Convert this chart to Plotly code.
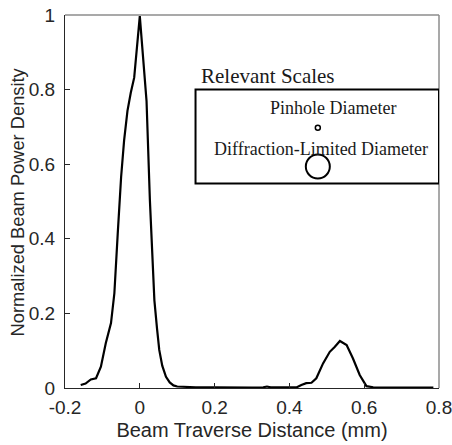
import plotly.graph_objects as go

# Beam profile data
distance_mm = [-0.158, -0.145, -0.131, -0.117, -0.104, -0.091, -0.077, -0.068, -0.059, -0.050,
               -0.042, -0.033, -0.024, -0.015, 0.000, 0.009, 0.018, 0.027, 0.039, 0.046,
               0.052, 0.060, 0.070, 0.080, 0.090, 0.100, 0.120, 0.150, 0.200, 0.250,
               0.300, 0.330, 0.340, 0.350, 0.400, 0.420, 0.432, 0.445, 0.459, 0.472,
               0.490, 0.508, 0.521, 0.535, 0.553, 0.570, 0.588, 0.606, 0.624, 0.650,
               0.700, 0.750, 0.785]
power_density = [0.008, 0.012, 0.023, 0.026, 0.057, 0.120, 0.174, 0.254, 0.414, 0.565,
                 0.663, 0.743, 0.792, 0.832, 0.997, 0.870, 0.770, 0.503, 0.235, 0.160,
                 0.102, 0.060, 0.030, 0.015, 0.007, 0.004, 0.003, 0.002, 0.002, 0.001,
                 0.001, 0.002, 0.004, 0.002, 0.001, 0.002, 0.008, 0.013, 0.014, 0.026,
                 0.066, 0.097, 0.110, 0.126, 0.115, 0.079, 0.035, 0.005, 0.002, 0.001,
                 0.001, 0.001, 0.001]

x_ticks = [-0.2, 0, 0.2, 0.4, 0.6, 0.8]
x_tick_labels = ["-0.2", "0", "0.2", "0.4", "0.6", "0.8"]
y_ticks = [0, 0.2, 0.4, 0.6, 0.8, 1]
y_tick_labels = ["0", "0.2", "0.4", "0.6", "0.8", "1"]

x_title = "Beam Traverse Distance (mm)"
y_title = "Normalized Beam Power Density"
legend_title = "Relevant Scales"
scale_labels = ["Pinhole Diameter", "Diffraction-Limited Diameter"]

sans = "Liberation Sans, Arial, Helvetica, sans-serif"
serif = "Liberation Serif, DejaVu Serif, serif"

fig = go.Figure()
fig.add_trace(go.Scatter(x=distance_mm, y=power_density, mode="lines",
                         line=dict(color="black", width=2.2), showlegend=False,
                         hoverinfo="skip"))

axis_common = dict(showgrid=False, zeroline=False, ticks="inside", ticklen=5,
                   tickcolor="#262626", showline=True, linecolor="#262626", linewidth=1,
                   automargin=False, ticklabeloverflow="allow",
                   tickfont=dict(family=sans, size=19, color="#262626"))

fig.update_xaxes(range=[-0.2, 0.8], tickvals=x_ticks, ticktext=x_tick_labels,
                 ticklabelstandoff=2,
                 title=dict(text=x_title,
                            font=dict(family=sans, size=20, color="#262626"), standoff=6),
                 **axis_common)
fig.update_yaxes(range=[0, 1], tickvals=y_ticks, ticktext=y_tick_labels,
                 ticklabelstandoff=5, **axis_common)

# y-axis title
fig.add_annotation(x=-0.1257, y=0.5, xref="paper", yref="paper", text=y_title,
                   textangle=-90, showarrow=False, xanchor="center", yanchor="middle",
                   font=dict(family=sans, size=18.3, color="#262626"))

# top / right box lines (gray)
fig.add_shape(type="line", xref="paper", yref="paper", x0=0, x1=1, y0=1, y1=1,
              line=dict(color="#8c8c8c", width=1.5))
fig.add_shape(type="line", xref="paper", yref="paper", x0=1, x1=1, y0=0, y1=1,
              line=dict(color="#8c8c8c", width=1.5))

# legend box
fig.add_shape(type="rect", xref="x", yref="y", x0=0.149, x1=0.80, y0=0.548, y1=0.80,
              line=dict(color="black", width=2), fillcolor="rgba(0,0,0,0)")
fig.add_annotation(x=0.159, y=0.837, xref="x", yref="y", text=legend_title, showarrow=False,
                   xanchor="left", yanchor="middle", font=dict(family=serif, size=21, color="#1a1a1a"))
fig.add_annotation(x=0.517, y=0.750, xref="x", yref="y", text=scale_labels[0], showarrow=False,
                   xanchor="center", yanchor="middle", font=dict(family=serif, size=18, color="#1a1a1a"))
fig.add_annotation(x=0.484, y=0.640, xref="x", yref="y", text=scale_labels[1], showarrow=False,
                   xanchor="center", yanchor="middle", font=dict(family=serif, size=18, color="#1a1a1a"))
# circles (pixel sized)
fig.add_shape(type="circle", xref="x", yref="y", xsizemode="pixel", ysizemode="pixel",
              xanchor=0.476, yanchor=0.698, x0=-2.5, x1=2.5, y0=-2.5, y1=2.5,
              line=dict(color="black", width=1.5))
fig.add_shape(type="circle", xref="x", yref="y", xsizemode="pixel", ysizemode="pixel",
              xanchor=0.476, yanchor=0.594, x0=-12, x1=12, y0=-12, y1=12,
              line=dict(color="black", width=2))

fig.update_layout(width=452, height=445, margin=dict(l=65, r=13, t=15, b=57),
                  plot_bgcolor="white", paper_bgcolor="white")

# remove the default page margin so the figure fills the window exactly
fig.write_html("out.html", config={"displayModeBar": False},
               post_script="document.body.style.margin='0';document.body.style.overflow='hidden';")
